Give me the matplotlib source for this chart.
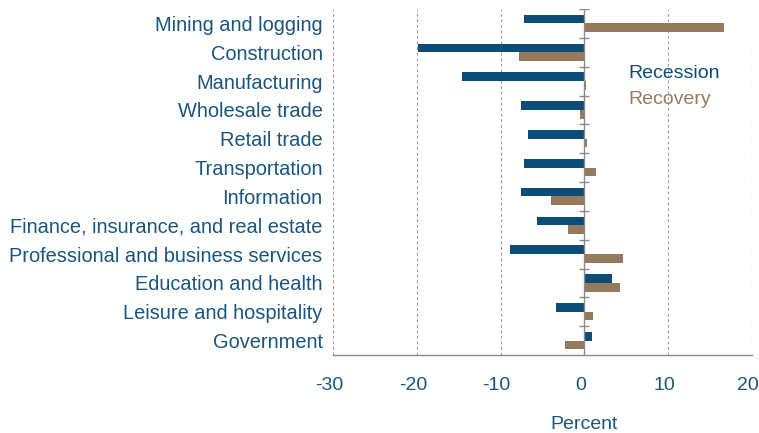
import matplotlib
matplotlib.use("Agg")
import matplotlib.pyplot as plt
import matplotlib.transforms as mtransforms
import numpy as np

categories = ["Mining and logging", "Construction", "Manufacturing", "Wholesale trade",
              "Retail trade", "Transportation", "Information",
              "Finance, insurance, and real estate", "Professional and business services",
              "Education and health", "Leisure and hospitality", "Government"]
recession = [-7.25, -19.8, -14.6, -7.55, -6.7, -7.25, -7.55, -5.7, -8.9, 3.35, -3.35, 0.9]
recovery = [16.65, -7.85, 0.2, -0.55, 0.3, 1.35, -4.0, -1.9, 4.6, 4.2, 1.05, -2.3]
xticks = [-30, -20, -10, 0, 10, 20]

BLUE = "#0b4d78"
BROWN = "#957b5d"
TEXT = "#1a5580"
GRID = "#9a9a9a"

plt.rcParams['font.family'] = ['Liberation Sans', 'DejaVu Sans']

fig = plt.figure(figsize=(7.59, 4.33), dpi=100)
ax = fig.add_axes([333/759, 1-355/433, 419/759, 346/433])

y = np.arange(len(categories))
h = 0.3
ax.barh(y - h/2, recession, height=h, color=BLUE, label="Recession", zorder=3)
ax.barh(y + h/2, recovery, height=h, color=BROWN, label="Recovery", zorder=3)

ax.set_ylim(len(categories) - 0.5, -0.5)
ax.set_xlim(xticks[0], xticks[-1])
ax.set_xticks(xticks)
ax.set_xticklabels([str(t) for t in xticks])
ax.set_yticks(y)
ax.set_yticklabels(categories)
ax.tick_params(axis='x', length=0, pad=16, labelsize=14, labelcolor=TEXT)
ax.tick_params(axis='y', length=0, pad=7.5, labelsize=14.4, labelcolor=TEXT)

shift = mtransforms.ScaledTranslation(-4/100, 0, fig.dpi_scale_trans)
for lab in ax.get_xticklabels():
    lab.set_transform(lab.get_transform() + shift)

# gridlines
for t in xticks:
    if t == 0:
        ax.axvline(0, color="#8a8a8a", lw=1.0, zorder=4)
    else:
        ax.axvline(t, color=GRID, lw=0.8, ls=(0, (2.5, 2.5)), zorder=1)
# small ticks on zero line at category boundaries
bounds = np.arange(len(categories)) - 0.5
ax.hlines(bounds, -0.6, 0.6, color="#8a8a8a", lw=1.0, zorder=4)

for s in ["top", "right", "left"]:
    ax.spines[s].set_visible(False)
ax.spines["bottom"].set_color("#8a8a8a")
ax.spines["bottom"].set_linewidth(1.0)

ax.set_xlabel("Percent", fontsize=14, color=TEXT)
ax.xaxis.set_label_coords((584-333)/419, (355-416)/346)

leg = ax.legend(loc="upper left", bbox_to_anchor=((628-333)/419, (355-64)/346),
                frameon=False, fontsize=14, handlelength=0, handletextpad=0,
                borderpad=0, borderaxespad=0, labelspacing=0.45)
for hnd in leg.legend_handles:
    hnd.set_visible(False)
for txt, c in zip(leg.get_texts(), [BLUE, BROWN]):
    txt.set_color(c)

fig.savefig("out.png", dpi=100)
